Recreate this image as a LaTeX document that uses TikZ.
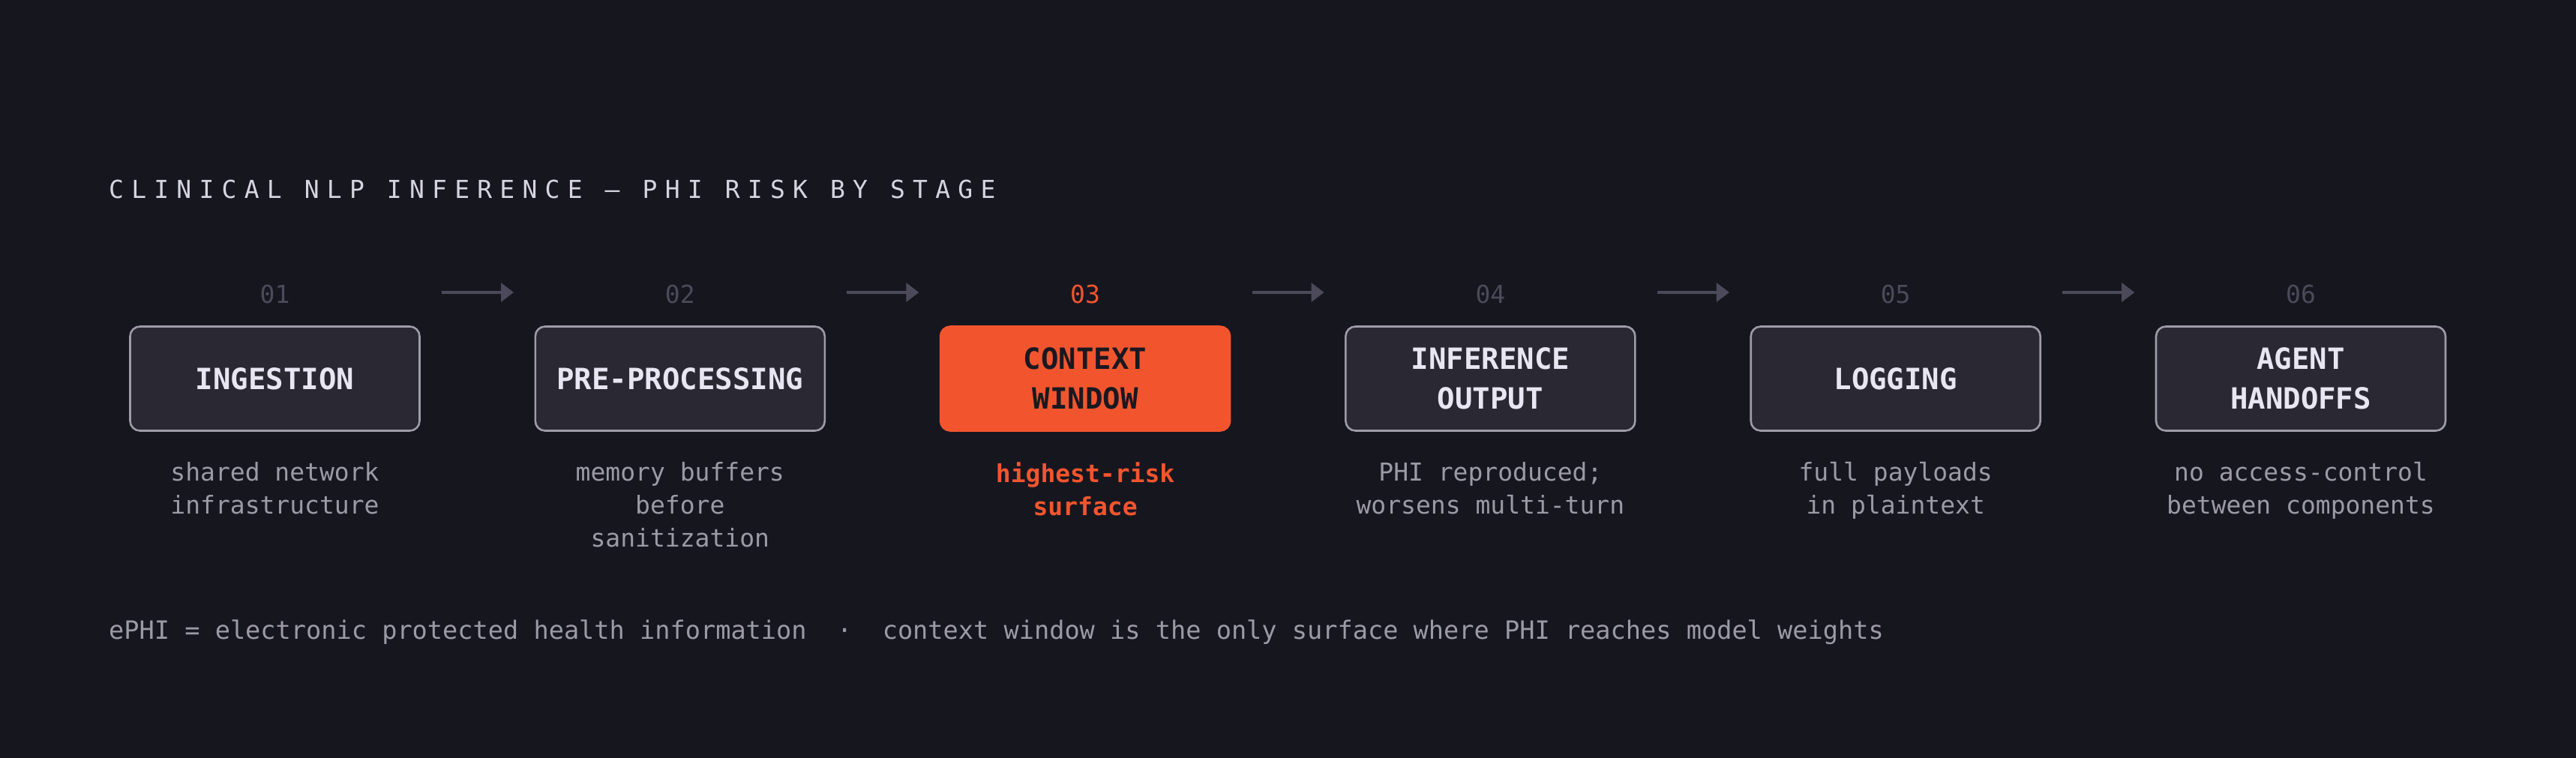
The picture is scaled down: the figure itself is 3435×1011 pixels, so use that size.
\documentclass[tikz,border=0pt]{standalone}
\usepackage{fontspec}
\setmonofont{DejaVu Sans Mono}
\newfontfamily\titlefont[LetterSpace=31]{DejaVu Sans Mono}
\usetikzlibrary{arrows.meta}
\definecolor{bg}{HTML}{16161F}
\definecolor{boxfill}{HTML}{2A2833}
\definecolor{boxdraw}{HTML}{9E9CA8}
\definecolor{boxtext}{HTML}{E8E6F2}
\definecolor{hot}{HTML}{F2552E}
\definecolor{desc}{HTML}{9C9AA5}
\definecolor{numc}{HTML}{4C4A5A}
\definecolor{titlec}{HTML}{D6D4DE}
\definecolor{darktext}{HTML}{1A1820}
\tikzset{
  stagebox/.style={draw=boxdraw, line width=2.6pt, fill=boxfill, rounded corners=13pt,
    minimum width=386pt, minimum height=139pt, inner sep=0pt, align=center,
    text=boxtext, font=\ttfamily\bfseries\fontsize{39}{53}\selectfont},
  hotbox/.style={stagebox, draw=hot, fill=hot, text=darktext},
  numlabel/.style={text=numc, font=\ttfamily\fontsize{33}{40}\selectfont, inner sep=0pt},
  hotnum/.style={numlabel, text=hot},
  desclabel/.style={text=desc, align=center, inner sep=0pt, anchor=north,
    font=\ttfamily\fontsize{33}{44}\selectfont},
  hotdesc/.style={desclabel, text=hot, font=\ttfamily\bfseries\fontsize{33}{44}\selectfont},
  flowarrow/.style={draw=numc, line width=3.4pt, -{Triangle[length=17pt,width=25pt]}},
}
\begin{document}
\begin{tikzpicture}[x=1pt,y=-1pt]
\fill[bg] (0,0) rectangle (3435,1011);
\useasboundingbox (0,0) rectangle (3435,1011);

\node[anchor=west, inner sep=0pt, text=titlec, font=\titlefont\fontsize{33}{40}\selectfont]
  (title) at (145,252) {CLINICAL NLP INFERENCE — PHI RISK BY STAGE};

% stage numbers
\node[numlabel] (n1) at (366.5,392) {01};
\node[numlabel] (n2) at (906.8,392) {02};
\node[hotnum]   (n3) at (1447.1,392) {03};
\node[numlabel] (n4) at (1987.4,392) {04};
\node[numlabel] (n5) at (2527.7,392) {05};
\node[numlabel] (n6) at (3068,392) {06};

% boxes
\node[stagebox] (b1) at (366.5,505) {INGESTION};
\node[stagebox] (b2) at (906.8,505) {PRE-PROCESSING};
\node[hotbox]   (b3) at (1447.1,505) {CONTEXT\\WINDOW};
\node[stagebox] (b4) at (1987.4,505) {INFERENCE\\OUTPUT};
\node[stagebox] (b5) at (2527.7,505) {LOGGING};
\node[stagebox] (b6) at (3068,505) {AGENT\\HANDOFFS};

% descriptions
\node[desclabel] (d1) at (366.5,616) {shared network\\infrastructure};
\node[desclabel] (d2) at (906.8,616) {memory buffers\\before\\sanitization};
\node[hotdesc]   (d3) at (1447.1,616) {highest-risk\\surface};
\node[desclabel] (d4) at (1987.4,616) {PHI reproduced;\\worsens multi-turn};
\node[desclabel] (d5) at (2527.7,616) {full payloads\\in plaintext};
\node[desclabel] (d6) at (3068,616) {no access-control\\between components};

% arrows
\coordinate (a1s) at (589,390);   \coordinate (a1e) at (685,390);
\coordinate (a2s) at (1129.3,390);\coordinate (a2e) at (1225.3,390);
\coordinate (a3s) at (1669.6,390);\coordinate (a3e) at (1765.6,390);
\coordinate (a4s) at (2209.9,390);\coordinate (a4e) at (2305.9,390);
\coordinate (a5s) at (2750.2,390);\coordinate (a5e) at (2846.2,390);
\draw[flowarrow] (a1s) -- (a1e);
\draw[flowarrow] (a2s) -- (a2e);
\draw[flowarrow] (a3s) -- (a3e);
\draw[flowarrow] (a4s) -- (a4e);
\draw[flowarrow] (a5s) -- (a5e);

% footer
\node[anchor=west, inner sep=0pt, text=desc, font=\ttfamily\fontsize{33.6}{40}\selectfont]
  (foot) at (145,843) {ePHI = electronic protected health information\ \ ·\ \ context window is the only surface where PHI reaches model weights};
\end{tikzpicture}
\end{document}
